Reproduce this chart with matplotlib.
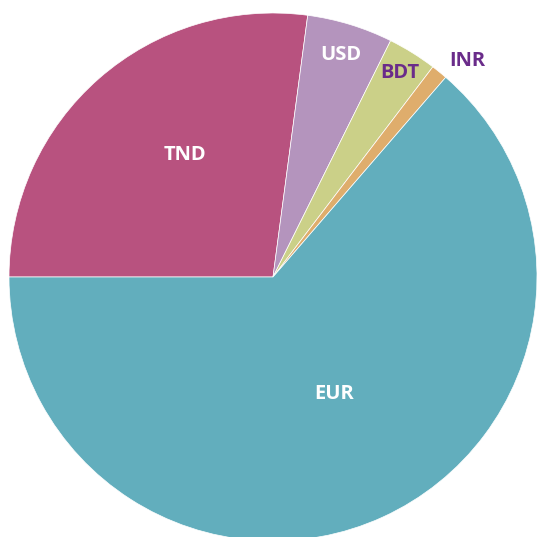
import numpy as np
import matplotlib
matplotlib.use("Agg")
import matplotlib.pyplot as plt

plt.rcParams["font.family"] = ["Open Sans", "DejaVu Sans"]

# slice data, clockwise from the left edge
currencies = ["TND", "USD", "BDT", "INR", "EUR"]
shares = [27.1, 5.25, 3.0, 1.0, 63.65]
colors = ["#b8527f", "#b494bd", "#cbd088", "#dfad6c", "#62aebd"]

# label placement: radius fraction, angle nudge (deg), text colour
label_r = [0.57, 0.88, 0.91, 1.10, 0.50]
label_dt = [-5.5, 0.0, 0.0, -3.0, 3.0]
label_c = ["white", "white", "#6a2c8a", "#6a2c8a", "white"]

fig = plt.figure(figsize=(5.37, 5.37), dpi=100)
ax = fig.add_axes([0, 0, 1, 1])
wedges, _ = ax.pie(
    shares,
    colors=colors,
    startangle=180,
    counterclock=False,
    radius=1.0,
    wedgeprops=dict(edgecolor="white", linewidth=0.5),
)

for w, name, r, dt, c in zip(wedges, currencies, label_r, label_dt, label_c):
    mid = np.deg2rad((w.theta1 + w.theta2) / 2 + dt)
    ax.text(r * np.cos(mid), r * np.sin(mid), name, ha="center", va="center",
            fontsize=14.5, fontweight="bold", color=c)

# centre sits at (273, 277) px, radius 264 px
R = 264.0
ax.set_xlim(-273 / R, (537 - 273) / R)
ax.set_ylim(-(537 - 277) / R, 277 / R)
ax.set_aspect("auto")
ax.axis("off")

fig.savefig("out.png", dpi=100)
